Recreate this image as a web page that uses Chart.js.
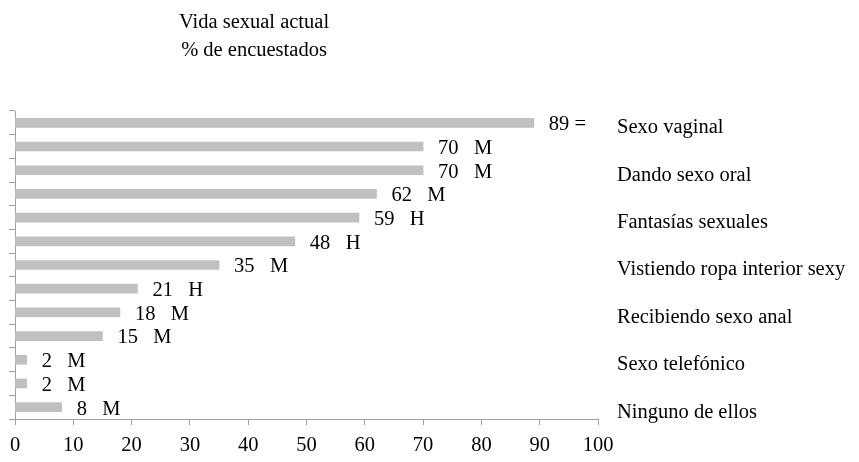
<!DOCTYPE html>
<html>
<head>
<meta charset="utf-8">
<script src="https://cdn.jsdelivr.net/npm/chart.js@4"></script>
<style>
  html, body { margin: 0; padding: 0; background: #fff; }
  #wrap { width: 859px; height: 462px; position: relative; }
</style>
</head>
<body>
<div id="wrap"><canvas id="chart"></canvas></div>
<script>
(function() {
  // categories (only every other one is labelled in the original)
  var categories = [
    'Sexo vaginal', '', 'Dando sexo oral', '', 'Fantasías sexuales', '',
    'Vistiendo ropa interior sexy', '', 'Recibiendo sexo anal', '',
    'Sexo telefónico', '', 'Ninguno de ellos'
  ];
  var values = [89, 70, 70, 62, 59, 48, 35, 21, 18, 15, 2, 2, 8];
  var marks = ['=', 'M', 'M', 'M', 'H', 'H', 'M', 'H', 'M', 'M', 'M', 'M', 'M'];
  var titleLines = ['Vida sexual actual', '% de encuestados'];
  var xTicks = [0, 10, 20, 30, 40, 50, 60, 70, 80, 90, 100];

  var fontFamily = '"Liberation Serif", "Times New Roman", serif';
  var fontSize = 20.5;
  var axisColor = '#a0a0a0';

  // value labels after each bar + the title
  var textPlugin = {
    id: 'texts',
    afterDatasetsDraw: function(chart) {
      var ctx = chart.ctx;
      var xs = chart.scales.x;
      var ys = chart.scales.y;
      ctx.save();
      ctx.fillStyle = '#000';
      ctx.font = fontSize + 'px ' + fontFamily;
      ctx.textAlign = 'left';
      ctx.textBaseline = 'middle';
      values.forEach(function(v, i) {
        var sep = marks[i] === '=' ? ' ' : '   ';
        ctx.fillText(v + sep + marks[i], xs.getPixelForValue(v) + 15, ys.getPixelForValue(i) + 2);
      });
      ctx.textAlign = 'center';
      ctx.fillText(titleLines[0], 254, 23);
      ctx.fillText(titleLines[1], 254, 51);
      ctx.restore();
    }
  };

  var ctx = document.getElementById('chart').getContext('2d');
  new Chart(ctx, {
    type: 'bar',
    data: {
      labels: categories,
      datasets: [{
        data: values,
        backgroundColor: '#c0c0c0',
        barThickness: 9,
        yAxisID: 'y'
      }]
    },
    options: {
      indexAxis: 'y',
      responsive: true,
      maintainAspectRatio: false,
      animation: false,
      layout: { padding: { top: 111, left: 0, right: 0, bottom: 0 } },
      plugins: {
        legend: { display: false },
        tooltip: { enabled: false },
        title: { display: false }
      },
      scales: {
        x: {
          min: 0,
          max: 100,
          afterBuildTicks: function(scale) {
            scale.ticks = xTicks.map(function(v) { return { value: v }; });
          },
          grid: {
            drawOnChartArea: false,
            color: axisColor,
            tickLength: 6
          },
          border: { color: axisColor },
          ticks: {
            color: '#000',
            padding: 8,
            font: { family: fontFamily, size: fontSize }
          },
          afterFit: function(scale) { scale.height = 43; }
        },
        y: {
          position: 'left',
          grid: {
            offset: true,
            drawOnChartArea: false,
            color: axisColor,
            tickLength: 6
          },
          border: { color: axisColor },
          ticks: { display: false },
          afterFit: function(scale) { scale.width = 15; }
        },
        y2: {
          position: 'right',
          type: 'category',
          grid: { display: false, drawTicks: false },
          border: { display: false },
          ticks: {
            autoSkip: false,
            padding: 19,
            labelOffset: 5,
            color: '#000',
            font: { family: fontFamily, size: fontSize }
          },
          afterFit: function(scale) { scale.width = 261; }
        }
      }
    },
    plugins: [textPlugin]
  });
})();
</script>
</body>
</html>
